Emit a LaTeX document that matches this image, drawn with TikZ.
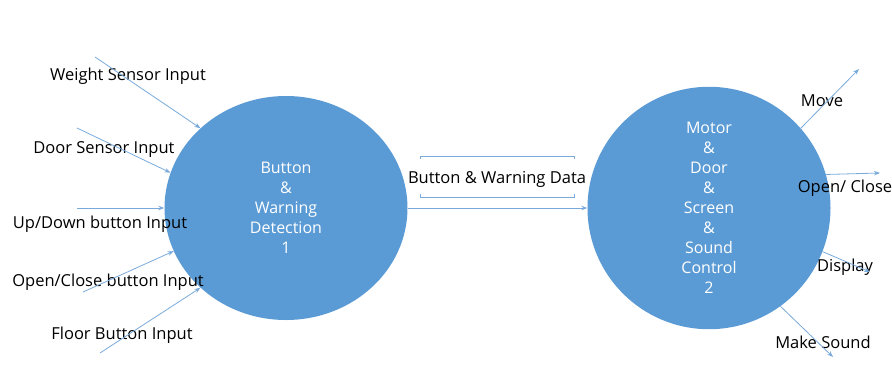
\documentclass[tikz,border=0pt]{standalone}
\usepackage{fontspec}
\setmainfont{Open Sans}
\usepackage[HTML]{xcolor}
\usetikzlibrary{positioning, arrows.meta, shapes.geometric}
\definecolor{bubble}{HTML}{5B9BD5}
\definecolor{flowline}{HTML}{79AADB}

\begin{document}
\begin{tikzpicture}[x=1pt, y=-1pt,
  process/.style={ellipse, fill=bubble, minimum width=243pt, minimum height=224pt,
    inner sep=0pt, text=white, align=center, font=\fontsize{16}{20}\selectfont},
  lbl/.style={font=\fontsize{16.5}{18}\selectfont, inner sep=0pt, yshift=-2pt},
  flow/.style={draw=flowline, line width=0.8pt, -{Stealth[length=6pt,width=4.5pt]}},
  store/.style={draw=flowline, line width=0.8pt}]
\useasboundingbox (0,0) rectangle (892,365);

% processes
\node[process] (det) at (286,208) {Button\\\&\\Warning\\Detection\\1};
\node[process] (ctrl) at (709,208) {Motor\\\&\\Door\\\&\\Screen\\\&\\Sound\\Control\\2};

% inputs
\node[lbl] (weight) at (128,74) {Weight Sensor Input};
\node[lbl] (door) at (104,148) {Door Sensor Input};
\node[lbl] (updown) at (100,222) {Up/Down button Input};
\node[lbl] (openclose) at (108,280) {Open/Close button Input};
\node[lbl] (floor) at (122,333) {Floor Button Input};
\coordinate (weightsrc) at (95,57);
\coordinate (doorsrc) at (77,128);
\coordinate (updownsrc) at (77,208);
\coordinate (openclosesrc) at (83,292);
\coordinate (floorsrc) at (100,353);
\draw[flow] (weightsrc) -- (det.137);
\draw[flow] (doorsrc) -- (det.163.5);
\draw[flow] (updownsrc) -- (det.180);
\draw[flow] (openclosesrc) -- (det.201.6);
\draw[flow] (floorsrc) -- (det.223.3);

% data store between processes
\node[lbl] (bwdata) at (497,177) {Button \& Warning Data};
\draw[store] (420,159) -- (420,156) -- (574,156) -- (574,159);
\draw[store] (420,194) -- (420,197) -- (574,197) -- (574,194);
\draw[flow] (det.east) -- (ctrl.west);

% outputs
\node[lbl] (move) at (822,99) {Move};
\node[lbl] (openout) at (845,186) {Open/ Close};
\node[lbl] (display) at (845,265) {Display};
\node[lbl] (sound) at (823,340) {Make Sound};
\coordinate (movedst) at (859,69);
\coordinate (opendst) at (880,173);
\coordinate (displaydst) at (870,272);
\coordinate (sounddst) at (833,357);
\draw[flow] (ctrl.41.9) -- (movedst);
\draw[flow] (ctrl.16) -- (opendst);
\draw[flow] (ctrl.-21.7) -- (displaydst);
\draw[flow] (ctrl.-54.3) -- (sounddst);
\end{tikzpicture}
\end{document}
